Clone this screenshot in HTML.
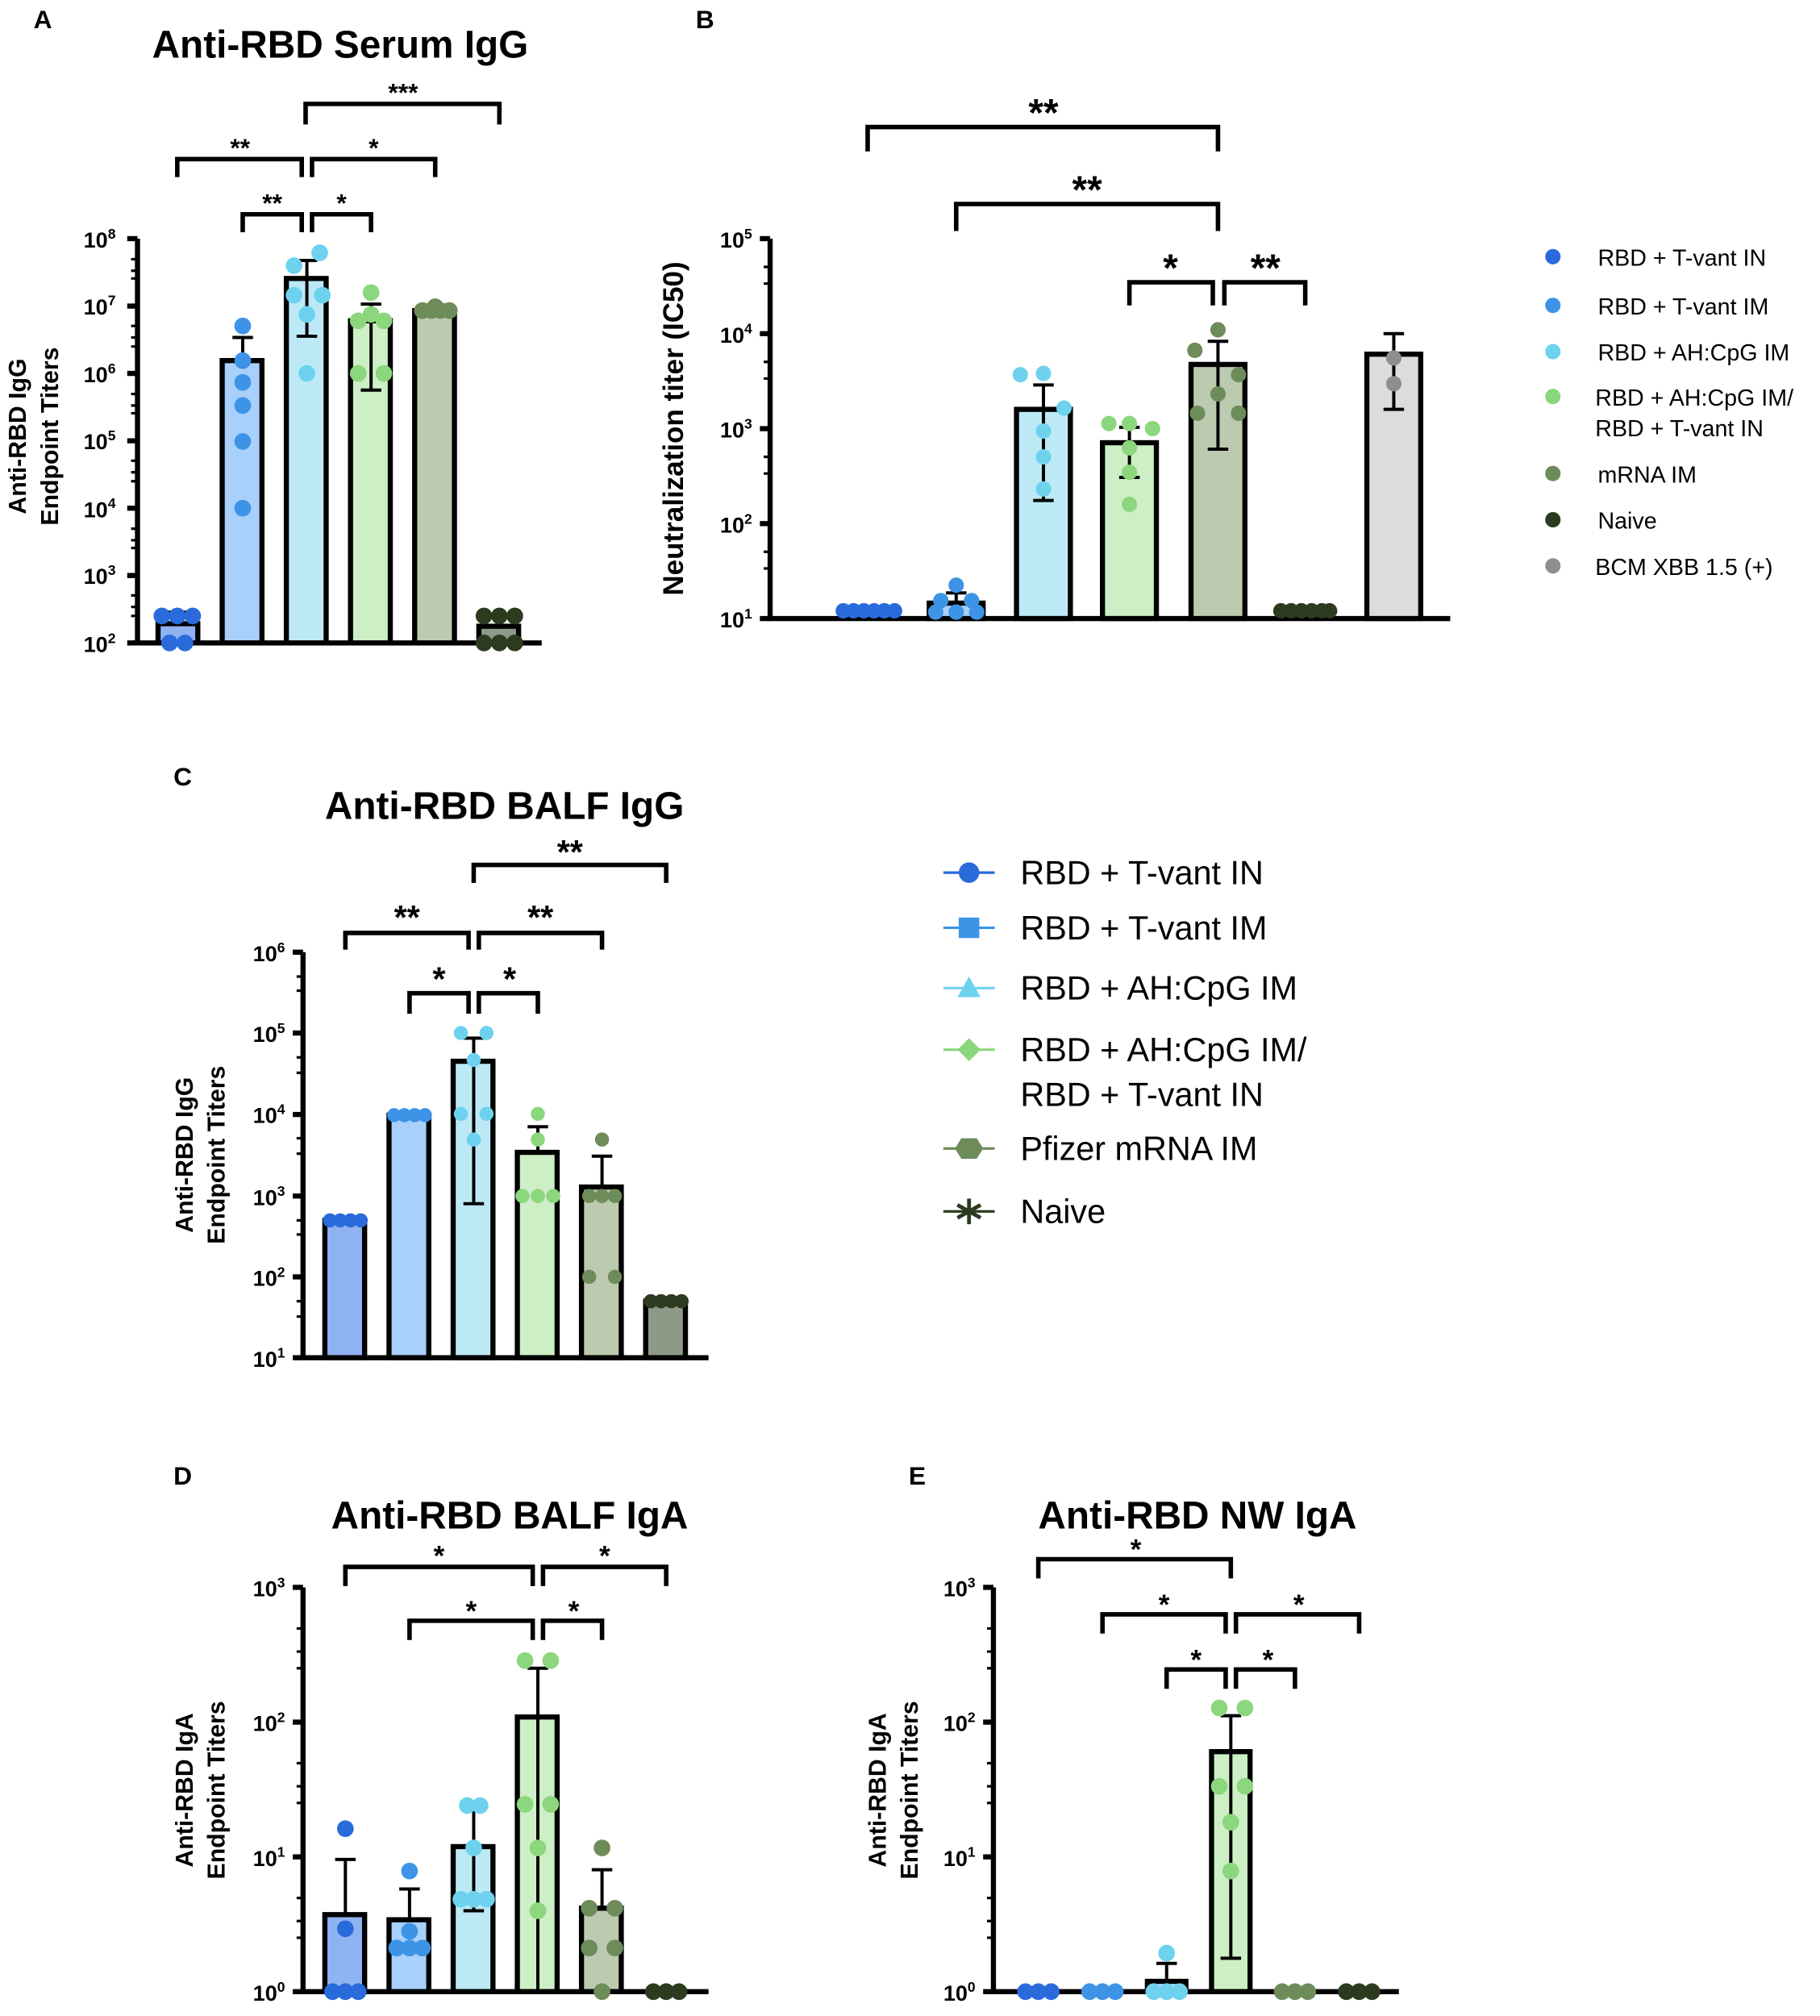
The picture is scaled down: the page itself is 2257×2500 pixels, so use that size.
<!DOCTYPE html>
<html><head><meta charset="utf-8"><style>
html,body{margin:0;padding:0;background:#fff}
svg{display:block}
text{font-family:"Liberation Sans",Arial,sans-serif;fill:#000}
</style></head><body>
<svg width="2257" height="2500" viewBox="0 0 1418 1571" xmlns="http://www.w3.org/2000/svg">
<g stroke="#000" fill="none" stroke-width="4">
<path d="M107 186V503M103 501H422"/>
<path d="M99 186h8M99 238.5h8M99 291h8M99 343.5h8M99 396h8M99 448.5h8M99 501h8" />
<rect x="123" y="486" width="31" height="15" fill="#8fb2f0"/>
<rect x="173" y="281" width="31" height="220" fill="#a8d0fa"/>
<rect x="223" y="217" width="31" height="284" fill="#bde9f7"/>
<rect x="273" y="250" width="31" height="251" fill="#cdefc5"/>
<rect x="323" y="242" width="31" height="259" fill="#bccab0"/>
<rect x="373" y="488" width="31" height="13" fill="#8d9a87"/>
<path d="M138 138V124H235V138M189 181V167H235V181M243 181V167H289V181M243 138V124H339V138M238 97V81H389V97" stroke-width="3.5"/>
<path d="M600 186V484M598 482H1130"/>
<path d="M592 186h8M592 260h8M592 334h8M592 408h8M592 482h8"/>
<rect x="724" y="470" width="42" height="12" fill="#a8d0fa"/>
<rect x="792" y="319" width="42" height="163" fill="#bde9f7"/>
<rect x="859" y="345" width="42" height="137" fill="#cdefc5"/>
<rect x="928" y="284" width="42" height="198" fill="#bccab0"/>
<rect x="1065" y="276" width="42" height="206" fill="#dcdcdc"/>
<path d="M676 118V99H949V118M745 180V159H949V180M880 238V220H945V238M954 238V220H1017V238" stroke-width="3.5"/>
<path d="M236 742V1060M234 1058H552"/>
<path d="M228 742h8M228 805h8M228 868.5h8M228 932h8M228 995h8M228 1058h8"/>
<rect x="253" y="951" width="31" height="107" fill="#8fb2f0"/>
<rect x="303" y="869" width="31" height="189" fill="#a8d0fa"/>
<rect x="353" y="827" width="31" height="231" fill="#bde9f7"/>
<rect x="403" y="898" width="31" height="160" fill="#cdefc5"/>
<rect x="453" y="925" width="31" height="133" fill="#bccab0"/>
<rect x="503" y="1014" width="31" height="44" fill="#8d9a87"/>
<path d="M269 740V727H365V740M319 790V774H365V790M373 790V774H419V790M373 740V727H469V740M369 688V674H519V688" stroke-width="3.5"/>
<path d="M236 1237V1554M234 1552H552"/>
<path d="M228 1237h8M228 1342h8M228 1447h8M228 1552h8"/>
<rect x="253" y="1492" width="31" height="60" fill="#8fb2f0"/>
<rect x="303" y="1496" width="31" height="56" fill="#a8d0fa"/>
<rect x="353" y="1439" width="31" height="113" fill="#bde9f7"/>
<rect x="403" y="1338" width="31" height="214" fill="#cdefc5"/>
<rect x="453" y="1487" width="31" height="65" fill="#bccab0"/>
<path d="M269 1236V1221H415V1236M319 1278V1263H415V1278M423 1278V1263H469V1278M423 1236V1221H519V1236" stroke-width="3.5"/>
<path d="M774 1237V1554M772 1552H1090"/>
<path d="M766 1237h8M766 1342h8M766 1447h8M766 1552h8"/>
<rect x="894" y="1544" width="30" height="8" fill="#bde9f7"/>
<rect x="944" y="1365" width="30" height="187" fill="#cdefc5"/>
<path d="M809 1230V1215H959V1230M859 1273V1258H955V1273M909 1316V1301H955V1316M963 1316V1301H1009V1316M963 1273V1258H1059V1273" stroke-width="3.5"/>
</g>
<g stroke="#000" stroke-width="2">
<path d="M102 202h5M102 211h5M102 217h5M102 254h5M102 263h5M102 270h5M102 307h5M102 316h5M102 322h5M102 359h5M102 368h5M102 375h5M102 412h5M102 421h5M102 427h5M102 464h5M102 473h5M102 480h5"/>
<path d="M595 208h5M595 221h5M595 282h5M595 295h5M595 356h5M595 369h5M595 430h5M595 443h5"/>
<path d="M231 761h5M231 772h5M231 824h5M231 836h5M231 887h5M231 899h5M231 951h5M231 962h5M231 1014h5M231 1026h5"/>
<path d="M231 1269h5M231 1287h5M231 1300h5M231 1374h5M231 1392h5M231 1405h5M231 1479h5M231 1497h5M231 1510h5"/>
<path d="M769 1269h5M769 1287h5M769 1300h5M769 1374h5M769 1392h5M769 1405h5M769 1479h5M769 1497h5M769 1510h5"/>
</g>
<g stroke="#000" stroke-width="2.5">
<path d="M189 281V263M181 263h16M239 203V262M231 203h16M231 262h16M289 237V304M281 237h16M281 304h16M138 486V477M131 477h14M389 488V480M382 480h14"/>
<path d="M745 470V462M737 462h16M813 300V390M805 300h16M805 390h16M880 333V372M872 333h16M872 372h16M949 266V350M941 266h16M941 350h16M1086 260V319M1078 260h16M1078 319h16"/>
<path d="M369 809V938M361 809h16M361 938h16M419 898V878M411 878h16M469 925V901M461 901h16"/>
<path d="M269 1492V1449M261 1449h16M319 1496V1472M311 1472h16M369 1411V1489M361 1411h16M361 1489h16M419 1300V1552M411 1300h16M469 1487V1457M461 1457h16"/>
<path d="M909 1544V1530M901 1530h16M959 1337V1526M951 1337h16M951 1526h16"/>
</g>
<g fill="#2a6bdc"><circle cx="126" cy="480" r="6.5"/><circle cx="138" cy="480" r="6.5"/><circle cx="150" cy="480" r="6.5"/><circle cx="132" cy="501" r="6.5"/><circle cx="144" cy="501" r="6.5"/>
<circle cx="657" cy="476" r="6"/><circle cx="665" cy="476" r="6"/><circle cx="673" cy="476" r="6"/><circle cx="681" cy="476" r="6"/><circle cx="689" cy="476" r="6"/><circle cx="697" cy="476" r="6"/>
<circle cx="257" cy="951" r="5.5"/><circle cx="265" cy="951" r="5.5"/><circle cx="273" cy="951" r="5.5"/><circle cx="281" cy="951" r="5.5"/>
<circle cx="269" cy="1425" r="6.5"/><circle cx="269" cy="1503" r="6.5"/><circle cx="259" cy="1552" r="6.5"/><circle cx="269" cy="1552" r="6.5"/><circle cx="279" cy="1552" r="6.5"/>
<circle cx="799" cy="1552" r="6.5"/><circle cx="809" cy="1552" r="6.5"/><circle cx="819" cy="1552" r="6.5"/>
<circle cx="1210" cy="200" r="6"/></g>
<g fill="#3d94e6"><circle cx="189" cy="254" r="6.5"/><circle cx="189" cy="281" r="6.5"/><circle cx="189" cy="298" r="6.5"/><circle cx="189" cy="316" r="6.5"/><circle cx="189" cy="344" r="6.5"/><circle cx="189" cy="396" r="6.5"/>
<circle cx="745" cy="456" r="6"/><circle cx="733" cy="468" r="6"/><circle cx="757" cy="468" r="6"/><circle cx="729" cy="477" r="6"/><circle cx="745" cy="477" r="6"/><circle cx="761" cy="477" r="6"/>
<circle cx="307" cy="869" r="5.5"/><circle cx="315" cy="869" r="5.5"/><circle cx="323" cy="869" r="5.5"/><circle cx="331" cy="869" r="5.5"/>
<circle cx="319" cy="1458" r="6.5"/><circle cx="319" cy="1505" r="6.5"/><circle cx="309" cy="1518" r="6.5"/><circle cx="319" cy="1518" r="6.5"/><circle cx="329" cy="1518" r="6.5"/>
<circle cx="849" cy="1552" r="6.5"/><circle cx="859" cy="1552" r="6.5"/><circle cx="869" cy="1552" r="6.5"/>
<circle cx="1210" cy="238" r="6"/></g>
<g fill="#6ed2ee"><circle cx="229" cy="207" r="6.5"/><circle cx="249" cy="197" r="6.5"/><circle cx="229" cy="230" r="6.5"/><circle cx="251" cy="230" r="6.5"/><circle cx="239" cy="245" r="6.5"/><circle cx="239" cy="291" r="6.5"/>
<circle cx="795" cy="292" r="6"/><circle cx="813" cy="291" r="6"/><circle cx="829" cy="318" r="6"/><circle cx="813" cy="336" r="6"/><circle cx="813" cy="356" r="6"/><circle cx="813" cy="381" r="6"/>
<circle cx="359" cy="805" r="5.5"/><circle cx="379" cy="805" r="5.5"/><circle cx="369" cy="826" r="5.5"/><circle cx="359" cy="868" r="5.5"/><circle cx="379" cy="868" r="5.5"/><circle cx="369" cy="888" r="5.5"/>
<circle cx="364" cy="1407" r="6.5"/><circle cx="374" cy="1407" r="6.5"/><circle cx="369" cy="1440" r="6.5"/><circle cx="359" cy="1480" r="6.5"/><circle cx="369" cy="1480" r="6.5"/><circle cx="379" cy="1480" r="6.5"/>
<circle cx="909" cy="1522" r="6.5"/><circle cx="899" cy="1552" r="6.5"/><circle cx="909" cy="1552" r="6.5"/><circle cx="919" cy="1552" r="6.5"/>
<circle cx="1210" cy="274" r="6"/></g>
<g fill="#8cd67d"><circle cx="289" cy="228" r="6.5"/><circle cx="289" cy="245" r="6.5"/><circle cx="279" cy="250" r="6.5"/><circle cx="299" cy="250" r="6.5"/><circle cx="279" cy="291" r="6.5"/><circle cx="299" cy="291" r="6.5"/>
<circle cx="864" cy="330" r="6"/><circle cx="880" cy="330" r="6"/><circle cx="898" cy="334" r="6"/><circle cx="880" cy="349" r="6"/><circle cx="880" cy="368" r="6"/><circle cx="880" cy="393" r="6"/>
<circle cx="419" cy="868" r="5.5"/><circle cx="419" cy="888" r="5.5"/><circle cx="407" cy="932" r="5.5"/><circle cx="419" cy="932" r="5.5"/><circle cx="431" cy="932" r="5.5"/>
<circle cx="409" cy="1294" r="6.5"/><circle cx="429" cy="1294" r="6.5"/><circle cx="409" cy="1406" r="6.5"/><circle cx="429" cy="1406" r="6.5"/><circle cx="419" cy="1440" r="6.5"/><circle cx="419" cy="1489" r="6.5"/>
<circle cx="950" cy="1331" r="6.5"/><circle cx="970" cy="1331" r="6.5"/><circle cx="950" cy="1392" r="6.5"/><circle cx="970" cy="1392" r="6.5"/><circle cx="959" cy="1420" r="6.5"/><circle cx="959" cy="1458" r="6.5"/>
<circle cx="1210" cy="309" r="6"/></g>
<g fill="#6e8c5a"><circle cx="329" cy="242" r="6.5"/><circle cx="336" cy="242" r="6.5"/><circle cx="343" cy="242" r="6.5"/><circle cx="350" cy="242" r="6.5"/><circle cx="339" cy="239" r="6.5"/>
<circle cx="949" cy="257" r="6"/><circle cx="931" cy="273" r="6"/><circle cx="965" cy="292" r="6"/><circle cx="949" cy="307" r="6"/><circle cx="933" cy="322" r="6"/><circle cx="965" cy="322" r="6"/>
<circle cx="469" cy="888" r="5.5"/><circle cx="459" cy="932" r="5.5"/><circle cx="479" cy="932" r="5.5"/><circle cx="469" cy="932" r="5.5"/><circle cx="459" cy="995" r="5.5"/><circle cx="479" cy="995" r="5.5"/>
<circle cx="469" cy="1440" r="6.5"/><circle cx="459" cy="1487" r="6.5"/><circle cx="479" cy="1487" r="6.5"/><circle cx="459" cy="1518" r="6.5"/><circle cx="479" cy="1518" r="6.5"/><circle cx="469" cy="1552" r="6.5"/>
<circle cx="999" cy="1552" r="6.5"/><circle cx="1009" cy="1552" r="6.5"/><circle cx="1019" cy="1552" r="6.5"/>
<circle cx="1210" cy="369" r="6"/></g>
<g fill="#2c3a1f"><circle cx="377" cy="480" r="6.5"/><circle cx="389" cy="480" r="6.5"/><circle cx="401" cy="480" r="6.5"/><circle cx="377" cy="501" r="6.5"/><circle cx="389" cy="501" r="6.5"/><circle cx="401" cy="501" r="6.5"/>
<circle cx="998" cy="476" r="6"/><circle cx="1006" cy="476" r="6"/><circle cx="1014" cy="476" r="6"/><circle cx="1022" cy="476" r="6"/><circle cx="1030" cy="476" r="6"/><circle cx="1036" cy="476" r="6"/>
<circle cx="507" cy="1014" r="5.5"/><circle cx="515" cy="1014" r="5.5"/><circle cx="523" cy="1014" r="5.5"/><circle cx="531" cy="1014" r="5.5"/>
<circle cx="509" cy="1552" r="6.5"/><circle cx="519" cy="1552" r="6.5"/><circle cx="529" cy="1552" r="6.5"/>
<circle cx="1049" cy="1552" r="6.5"/><circle cx="1059" cy="1552" r="6.5"/><circle cx="1069" cy="1552" r="6.5"/>
<circle cx="1210" cy="405" r="6"/></g>
<g fill="#8e8e8e"><circle cx="1086" cy="279" r="6"/><circle cx="1086" cy="299" r="6"/><circle cx="1210" cy="441" r="6"/></g>
<g stroke-width="2">
<line x1="735" y1="680" x2="775" y2="680" stroke="#2a6bdc"/><circle cx="755" cy="680" r="8" fill="#2a6bdc"/>
<line x1="735" y1="723" x2="775" y2="723" stroke="#3d94e6"/><rect x="747" y="715" width="16" height="16" fill="#3d94e6"/>
<line x1="735" y1="770" x2="775" y2="770" stroke="#6ed2ee"/><path d="M755 761L764 777H746Z" fill="#6ed2ee"/>
<line x1="735" y1="818" x2="775" y2="818" stroke="#8cd67d"/><path d="M755 809L764 818L755 827L746 818Z" fill="#8cd67d"/>
<line x1="735" y1="895" x2="775" y2="895" stroke="#6e8c5a"/><path d="M749 887H761L766 895L761 903H749L744 895Z" fill="#6e8c5a"/>
<line x1="735" y1="944" x2="775" y2="944" stroke="#2c3a1f"/><path d="M755 934V954M746 939L764 949M746 949L764 939" stroke="#2c3a1f" stroke-width="3"/>
</g>
<g font-weight="bold">
<text x="26" y="22" font-size="20">A</text>
<text x="542" y="22" font-size="20">B</text>
<text x="135" y="612" font-size="20">C</text>
<text x="135" y="1157" font-size="20">D</text>
<text x="708" y="1157" font-size="20">E</text>
</g>
<g font-weight="bold" text-anchor="middle">
<text x="265" y="45" font-size="30">Anti-RBD Serum IgG</text>
<text x="393" y="638" font-size="30">Anti-RBD BALF IgG</text>
<text x="397" y="1191" font-size="30">Anti-RBD BALF IgA</text>
<text x="933" y="1191" font-size="30">Anti-RBD NW IgA</text>
<g font-size="20"><text x="187" y="122">**</text><text x="212" y="165">**</text><text x="266" y="165">*</text><text x="291" y="122">*</text><text x="314" y="79">***</text></g>
<g font-size="30"><text x="813" y="98">**</text><text x="847" y="158">**</text><text x="912" y="219">*</text><text x="986" y="219">**</text></g>
<g font-size="26"><text x="317" y="724">**</text><text x="342" y="772">*</text><text x="397" y="772">*</text><text x="421" y="724">**</text><text x="444" y="673">**</text></g>
<g font-size="22"><text x="342" y="1220">*</text><text x="367" y="1263">*</text><text x="447" y="1263">*</text><text x="471" y="1220">*</text>
<text x="885" y="1215">*</text><text x="907" y="1258">*</text><text x="932" y="1301">*</text><text x="988" y="1301">*</text><text x="1012" y="1258">*</text></g>
<g font-size="19" transform="rotate(-90)">
<text x="-340" y="20">Anti-RBD IgG</text><text x="-340" y="45">Endpoint Titers</text>
<text x="-900" y="150">Anti-RBD IgG</text><text x="-900" y="175">Endpoint Titers</text>
<text x="-1395" y="150">Anti-RBD IgA</text><text x="-1395" y="175">Endpoint Titers</text>
<text x="-1395" y="690">Anti-RBD IgA</text><text x="-1395" y="715">Endpoint Titers</text>
<text x="-334" y="532" font-size="22">Neutralization titer (IC50)</text>
</g>
</g>
<g font-weight="bold" font-size="17" text-anchor="end">
<text x="90" y="193">10<tspan font-size="11" dy="-7">8</tspan></text><text x="90" y="245">10<tspan font-size="11" dy="-7">7</tspan></text><text x="90" y="298">10<tspan font-size="11" dy="-7">6</tspan></text><text x="90" y="350">10<tspan font-size="11" dy="-7">5</tspan></text><text x="90" y="403">10<tspan font-size="11" dy="-7">4</tspan></text><text x="90" y="455">10<tspan font-size="11" dy="-7">3</tspan></text><text x="90" y="508">10<tspan font-size="11" dy="-7">2</tspan></text>
<text x="586" y="193">10<tspan font-size="11" dy="-7">5</tspan></text><text x="586" y="267">10<tspan font-size="11" dy="-7">4</tspan></text><text x="586" y="341">10<tspan font-size="11" dy="-7">3</tspan></text><text x="586" y="415">10<tspan font-size="11" dy="-7">2</tspan></text><text x="586" y="489">10<tspan font-size="11" dy="-7">1</tspan></text>
<text x="222" y="749">10<tspan font-size="11" dy="-7">6</tspan></text><text x="222" y="812">10<tspan font-size="11" dy="-7">5</tspan></text><text x="222" y="875">10<tspan font-size="11" dy="-7">4</tspan></text><text x="222" y="939">10<tspan font-size="11" dy="-7">3</tspan></text><text x="222" y="1002">10<tspan font-size="11" dy="-7">2</tspan></text><text x="222" y="1065">10<tspan font-size="11" dy="-7">1</tspan></text>
<text x="222" y="1244">10<tspan font-size="11" dy="-7">3</tspan></text><text x="222" y="1349">10<tspan font-size="11" dy="-7">2</tspan></text><text x="222" y="1454">10<tspan font-size="11" dy="-7">1</tspan></text><text x="222" y="1559">10<tspan font-size="11" dy="-7">0</tspan></text>
<text x="760" y="1244">10<tspan font-size="11" dy="-7">3</tspan></text><text x="760" y="1349">10<tspan font-size="11" dy="-7">2</tspan></text><text x="760" y="1454">10<tspan font-size="11" dy="-7">1</tspan></text><text x="760" y="1559">10<tspan font-size="11" dy="-7">0</tspan></text>
</g>
<g font-size="18">
<text x="1245" y="207">RBD + T-vant IN</text><text x="1245" y="245">RBD + T-vant IM</text><text x="1245" y="281">RBD + AH:CpG IM</text>
<text x="1243" y="316">RBD + AH:CpG IM/</text><text x="1243" y="340">RBD + T-vant IN</text>
<text x="1245" y="376">mRNA IM</text><text x="1245" y="412">Naive</text><text x="1243" y="448">BCM XBB 1.5 (+)</text>
</g>
<g font-size="26">
<text x="795" y="689">RBD + T-vant IN</text><text x="795" y="732">RBD + T-vant IM</text><text x="795" y="779">RBD + AH:CpG IM</text>
<text x="795" y="827">RBD + AH:CpG IM/</text><text x="795" y="862">RBD + T-vant IN</text>
<text x="795" y="904">Pfizer mRNA IM</text><text x="795" y="953">Naive</text>
</g>
</svg>
</body></html>
